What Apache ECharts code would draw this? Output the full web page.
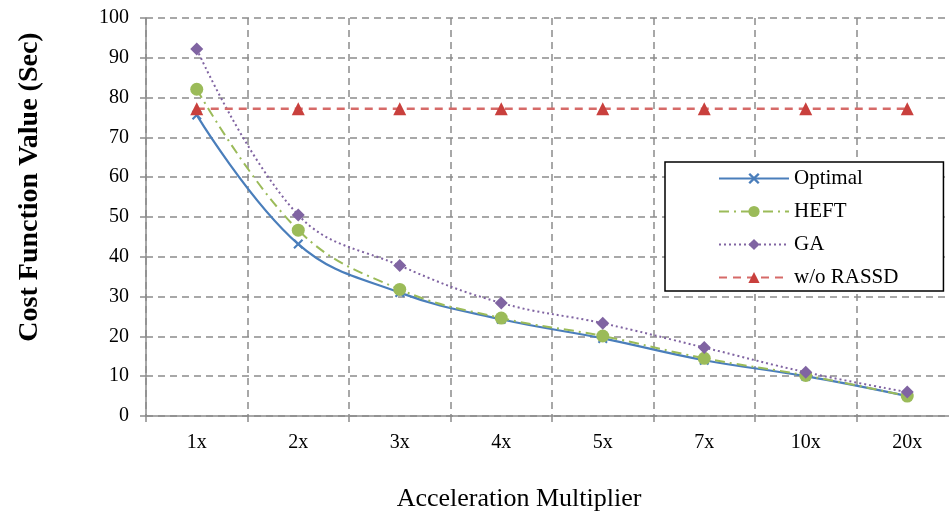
<!DOCTYPE html>
<html>
<head>
<meta charset="utf-8">
<script src="https://cdn.jsdelivr.net/npm/echarts@6/dist/echarts.min.js"></script>
<style>
  html, body { margin: 0; padding: 0; background: #fff; overflow: hidden; }
  #chart { width: 958px; height: 513px; }
</style>
</head>
<body>
<div id="chart"></div>
<script>
  const categories = ['1x', '2x', '3x', '4x', '5x', '7x', '10x', '20x']
  const optimal = [75.6, 43.2, 31, 24.3, 19.5, 14, 10, 5]
  const heft = [82.1, 46.7, 31.8, 24.6, 20.1, 14.5, 10.2, 5]
  const ga = [92.2, 50.5, 37.8, 28.4, 23.3, 17.2, 11, 6]
  const rassd = [77.2, 77.2, 77.2, 77.2, 77.2, 77.2, 77.2, 77.2]

  const font = 'Liberation Serif'
  const gridColor = '#8c8c8c'
  const xMark = 'path://M0,1.5 L1.5,0 L5,3.5 L8.5,0 L10,1.5 L6.5,5 L10,8.5 L8.5,10 L5,6.5 L1.5,10 L0,8.5 L3.5,5 Z'

  // chart is a little wider than the window: the last category band runs off the right edge
  const chart = echarts.init(document.getElementById('chart'))

  chart.setOption({
    animation: false,
    textStyle: { fontFamily: font },
    grid: { left: 146, top: 18, right: 0, bottom: 97, outerBoundsMode: 'none' },
    legend: {
      orient: 'vertical',
      left: 665,
      top: 162,
      padding: [6, 45, 3, 53],
      backgroundColor: '#fff',
      borderColor: '#000',
      borderWidth: 1.5,
      itemWidth: 70,
      itemHeight: 14,
      itemGap: 12,
      textStyle: { fontFamily: font, fontSize: 21, color: '#000' },
      data: ['Optimal', 'HEFT', 'GA', 'w/o RASSD']
    },
    xAxis: {
      type: 'category',
      data: categories,
      boundaryGap: true,
      name: 'Acceleration Multiplier',
      nameLocation: 'middle',
      nameGap: 70,
      nameTextStyle: { fontFamily: font, fontSize: 26, color: '#000', padding: [0, 66, 0, 0] },
      axisLine: { lineStyle: { color: gridColor, width: 1.5 } },
      axisTick: { show: true, length: 6, lineStyle: { color: gridColor, width: 1.5 } },
      axisLabel: { fontFamily: font, fontSize: 20, color: '#000', margin: 17 },
      splitLine: { show: true, lineStyle: { color: gridColor, width: 1.5, type: [7, 5] } }
    },
    yAxis: {
      type: 'value',
      min: 0,
      max: 100,
      interval: 10,
      name: 'Cost Function Value (Sec)',
      nameLocation: 'middle',
      nameGap: 102,
      nameTextStyle: { fontFamily: font, fontSize: 28, fontWeight: 'bold', color: '#000', padding: [0, 0, 0, 60] },
      axisLine: { show: true, lineStyle: { color: gridColor, width: 1.5 } },
      axisTick: { show: true, length: 6, lineStyle: { color: gridColor, width: 1.5 } },
      axisLabel: { fontFamily: font, fontSize: 20, color: '#000', margin: 17 },
      splitLine: { show: true, lineStyle: { color: gridColor, width: 1.5, type: [7, 5] } }
    },
    series: [{
      name: 'Optimal',
      type: 'line',
      data: optimal,
      smooth: 0.4,
      symbol: xMark,
      symbolSize: 10,
      color: '#4a7ebb',
      lineStyle: { width: 2.2, color: '#4a7ebb' },
      itemStyle: { color: '#4a7ebb' }
    }, {
      name: 'HEFT',
      type: 'line',
      data: heft,
      smooth: 0.4,
      symbol: 'circle',
      symbolSize: 13,
      color: '#9bbb59',
      lineStyle: { width: 2, color: '#9bbb59', type: [10, 5, 2, 5] },
      itemStyle: { color: '#9bbb59' }
    }, {
      name: 'GA',
      type: 'line',
      data: ga,
      smooth: 0.4,
      symbol: 'diamond',
      symbolSize: 13,
      color: '#8064a2',
      lineStyle: { width: 2, color: '#8064a2', type: [2, 3] },
      itemStyle: { color: '#8064a2' }
    }, {
      name: 'w/o RASSD',
      type: 'line',
      data: rassd,
      symbol: 'triangle',
      symbolSize: 13,
      color: '#c9403d',
      lineStyle: { width: 2.5, color: '#d66a68', type: [8, 6] },
      itemStyle: { color: '#c9403d' }
    }]
  })
</script>
</body>
</html>
